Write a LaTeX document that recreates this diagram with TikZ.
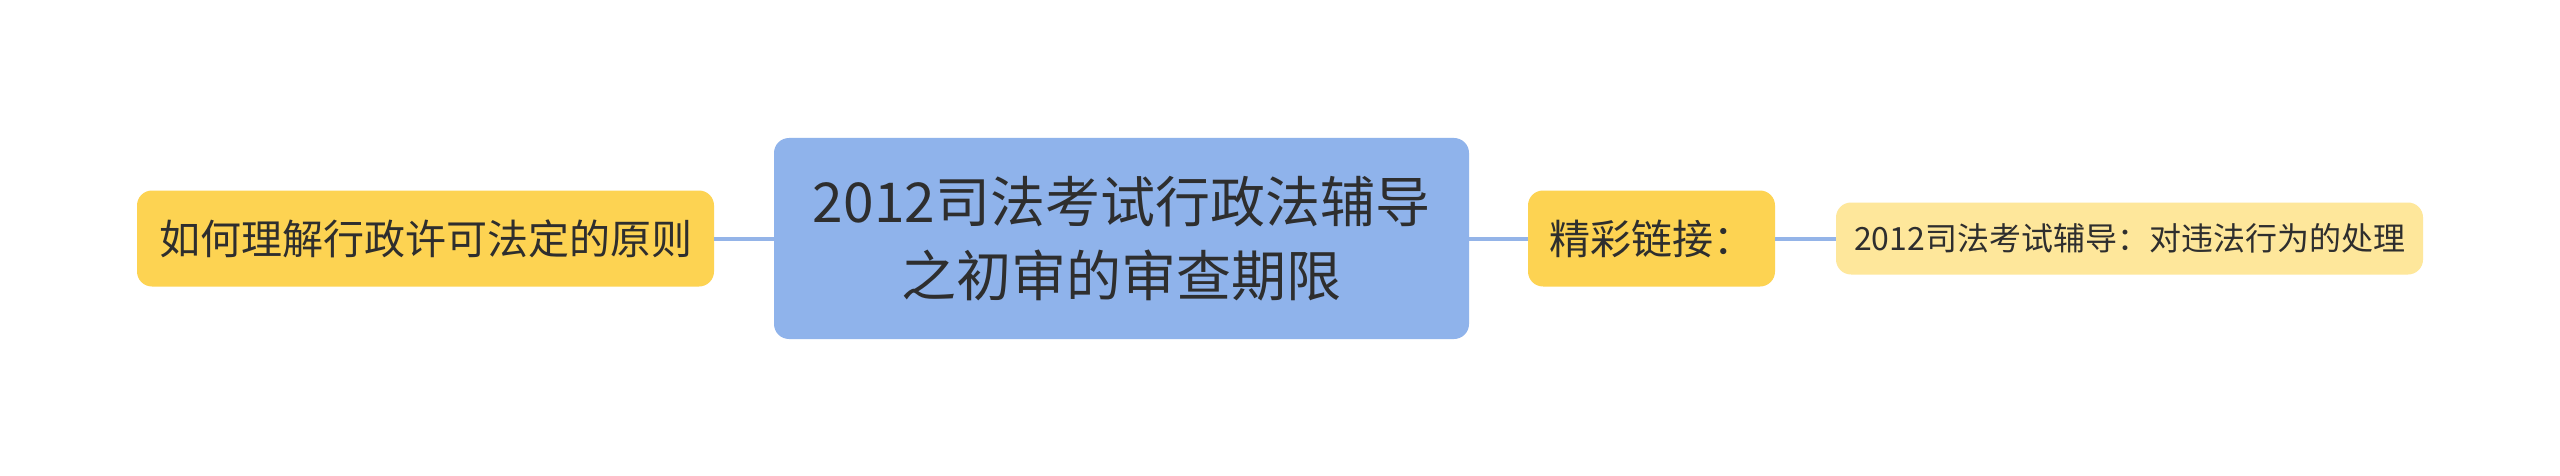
\documentclass[tikz,border=0pt]{standalone}
\usepackage{fontspec}
\setmainfont{Noto Sans CJK SC}
\definecolor{mainblue}{HTML}{8FB3EB}
\definecolor{subyellow}{HTML}{FDD352}
\definecolor{leafyellow}{HTML}{FEE79B}
\definecolor{linkblue}{HTML}{94B4E8}
\definecolor{txt}{HTML}{2E2E2E}
\begin{document}
\begin{tikzpicture}[x=1pt,y=-1pt,
  box/.style={rectangle, rounded corners=15pt, inner sep=0pt, text=txt, align=center},
  centerbox/.style={box, fill=mainblue, font=\fontsize{55}{74}\selectfont},
  subbox/.style={box, fill=subyellow, font=\fontsize{41}{50}\selectfont},
  leafbox/.style={box, fill=leafyellow, font=\fontsize{32}{40}\selectfont},
  link/.style={draw=linkblue, line width=4pt}]
\useasboundingbox (0,0) rectangle (2560,476);
\fill[white] (0,0) rectangle (2560,476);
\node[centerbox, minimum width=695pt, minimum height=201pt] (c) at (1121.5,238.5)
  {2012司法考试行政法辅导\\之初审的审查期限};
\node[subbox, minimum width=577pt, minimum height=96pt] (l) at (425.5,238.5)
  {如何理解行政许可法定的原则};
\node[subbox, minimum width=247pt, minimum height=96pt] (r) at (1651.5,238.5)
  {精彩链接：};
\node[leafbox, minimum width=587pt, minimum height=72pt] (f) at (2129.5,238.5)
  {2012司法考试辅导：对违法行为的处理};
\draw[link] (l.east) -- (c.west);
\draw[link] (c.east) -- (r.west);
\draw[link] (r.east) -- (f.west);
\end{tikzpicture}
\end{document}
